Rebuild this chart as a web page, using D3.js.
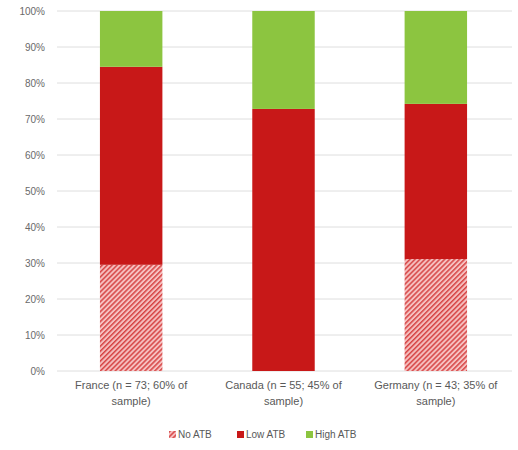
<!DOCTYPE html>
<html>
<head>
<meta charset="utf-8">
<script src="https://cdn.jsdelivr.net/npm/d3@7"></script>
<style>
  body { margin: 0; background: #fff; }
  text { font-family: "Liberation Sans", "DejaVu Sans", sans-serif; fill: #595959; }
</style>
</head>
<body>
<div id="app"></div>
<script>
// data
const categories = ["France", "Canada", "Germany"];
const categoryLabels = [
  ["France (n = 73; 60% of", "sample)"],
  ["Canada (n = 55; 45% of", "sample)"],
  ["Germany (n = 43; 35% of", "sample)"]
];
const series = ["No ATB", "Low ATB", "High ATB"];
const noAtb = [29.5, 0, 31.1];
const lowAtb = [55.0, 72.8, 43.1];
const highAtb = [15.5, 27.2, 25.8];
const yTicks = [0, 10, 20, 30, 40, 50, 60, 70, 80, 90, 100];

const width = 518, height = 450;
const margin = {left: 55, right: 6, top: 11, bottom: 79};

const svg = d3.select("#app").append("svg")
    .attr("width", width)
    .attr("height", height);

// hatch pattern for No ATB
const defs = svg.append("defs");
const pat = defs.append("pattern")
    .attr("id", "hatch")
    .attr("patternUnits", "userSpaceOnUse")
    .attr("width", 3.5).attr("height", 3.5)
    .attr("patternTransform", "rotate(45)");
pat.append("rect").attr("width", 3.5).attr("height", 3.5).attr("fill", "#f6c0c0");
pat.append("rect").attr("width", 1.5).attr("height", 3.5).attr("fill", "#d64545");

const color = d3.scaleOrdinal()
    .domain(series)
    .range(["url(#hatch)", "#c81818", "#8cc540"]);

const x = d3.scaleBand()
    .domain(categories)
    .range([margin.left, width - margin.right])
    .paddingInner(0.59)
    .paddingOuter(0.295);

const y = d3.scaleLinear()
    .domain([0, 100])
    .range([height - margin.bottom, margin.top]);

// gridlines
svg.append("g")
    .selectAll("line")
    .data(yTicks)
    .enter().append("line")
        .attr("x1", 57)
        .attr("x2", width - 6)
        .attr("y1", d => y(d))
        .attr("y2", d => y(d))
        .attr("stroke", "#dedede")
        .attr("stroke-width", 1);

// y axis labels
const yAxis = svg.append("g")
    .attr("transform", "translate(45,0)")
    .call(d3.axisLeft(y).tickValues(yTicks).tickFormat(d => d + "%").tickSize(0));
yAxis.select(".domain").remove();
yAxis.selectAll("text")
    .attr("x", 0)
    .style("font-size", "10px")
    .style("fill", "#6a6a6a");

// stack
const rows = categories.map((c, i) => ({cat: c, "No ATB": noAtb[i], "Low ATB": lowAtb[i], "High ATB": highAtb[i]}));
const stacked = d3.stack().keys(series)(rows);

svg.append("g")
    .selectAll("g")
    .data(stacked)
    .enter().append("g")
        .attr("fill", d => color(d.key))
    .selectAll("rect")
    .data(d => d)
    .enter().append("rect")
        .attr("x", d => x(d.data.cat))
        .attr("y", d => y(d[1]))
        .attr("width", x.bandwidth())
        .attr("height", d => y(d[0]) - y(d[1]));

// x labels
const xl = svg.append("g");
categories.forEach((c, i) => {
  const t = xl.append("text")
      .attr("x", x(c) + x.bandwidth() / 2)
      .attr("y", 389)
      .attr("text-anchor", "middle")
      .style("font-size", "11px");
  categoryLabels[i].forEach((line, j) => {
    t.append("tspan")
        .attr("x", x(c) + x.bandwidth() / 2)
        .attr("dy", j === 0 ? 0 : 16)
        .text(line);
  });
});

// legend
const legendX = [169, 237, 306];
const legend = svg.append("g");
series.forEach((s, i) => {
  const g = legend.append("g").attr("transform", `translate(${legendX[i]},431)`);
  g.append("rect").attr("width", 7).attr("height", 7).attr("fill", color(s));
  g.append("text")
      .attr("x", 9)
      .attr("y", 7)
      .style("font-size", "10px")
      .text(s);
});
</script>
</body>
</html>
